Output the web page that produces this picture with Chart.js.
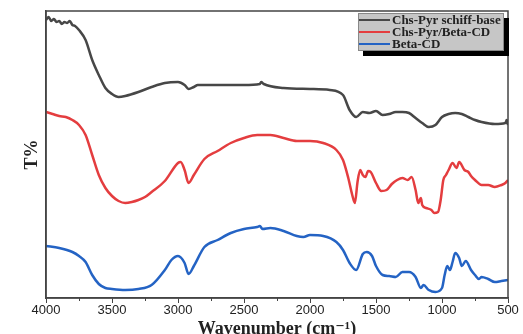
<!DOCTYPE html>
<html>
<head>
<meta charset="utf-8">
<script src="https://cdn.jsdelivr.net/npm/chart.js@4.4.1/dist/chart.umd.min.js"></script>
<style>
  html, body { margin: 0; padding: 0; background: #fff; }
  #wrap { width: 523px; height: 334px; }
</style>
</head>
<body>
<div id="wrap"><canvas id="ftir"></canvas></div>
<script>
// Wavenumbers (cm-1) and transmittance (arbitrary units, offset stacked) per spectrum
const schiffWn = [4000, 3980, 3960, 3940, 3920, 3900, 3880, 3860, 3840, 3820, 3800, 3780, 3750, 3700, 3650, 3600, 3550, 3500, 3450, 3400, 3300, 3200, 3100, 3000, 2950, 2920, 2880, 2850, 2700, 2500, 2380, 2370, 2350, 2200, 2000, 1850, 1750, 1700, 1650, 1600, 1550, 1500, 1450, 1400, 1350, 1300, 1250, 1200, 1150, 1100, 1050, 1000, 950, 900, 850, 800, 750, 700, 600, 520, 510, 500];
const schiffT = [278, 281, 277, 279, 276, 277, 274, 276, 275, 277, 273, 272, 268, 258, 238, 223, 210, 204, 201, 202, 206, 211, 215, 216, 213, 209, 211, 213, 213, 213, 214, 216, 214, 210, 209, 208, 203, 188, 181, 186, 185, 187, 183, 184, 186, 186, 185, 180, 175, 171, 173, 181, 184, 185, 184, 181, 178, 176, 174, 175, 178, 173];

const complexWn = [4000, 3950, 3900, 3850, 3800, 3750, 3700, 3650, 3600, 3550, 3500, 3450, 3400, 3350, 3300, 3250, 3200, 3100, 3000, 2980, 2950, 2920, 2880, 2800, 2700, 2600, 2500, 2400, 2300, 2200, 2100, 2000, 1900, 1800, 1750, 1710, 1680, 1660, 1640, 1620, 1600, 1580, 1560, 1540, 1500, 1460, 1420, 1380, 1340, 1300, 1260, 1230, 1200, 1180, 1160, 1150, 1120, 1080, 1060, 1030, 1010, 990, 970, 950, 920, 890, 870, 830, 800, 780, 750, 700, 650, 600, 550, 520, 500];
const complexT = [186, 184, 182, 181, 178, 173, 163, 143, 123, 110, 102, 97, 95, 96, 98, 101, 106, 117, 135, 136, 128, 115, 123, 139, 147, 155, 160, 163, 163, 160, 157, 157, 155, 148, 138, 120, 103, 95, 116, 128, 123, 121, 127, 126, 115, 107, 108, 114, 118, 120, 118, 121, 108, 95, 100, 93, 90, 88, 85, 86, 98, 118, 123, 128, 135, 130, 136, 128, 126, 122, 118, 113, 113, 111, 113, 115, 118];

const betaWn = [4000, 3900, 3800, 3750, 3700, 3650, 3600, 3550, 3500, 3400, 3300, 3200, 3100, 3050, 3000, 2950, 2920, 2880, 2800, 2700, 2600, 2500, 2400, 2380, 2360, 2300, 2200, 2100, 2050, 2000, 1900, 1800, 1750, 1700, 1650, 1600, 1570, 1530, 1500, 1450, 1400, 1350, 1300, 1250, 1200, 1160, 1140, 1100, 1050, 1000, 980, 960, 940, 920, 900, 870, 850, 820, 780, 750, 720, 700, 650, 600, 550, 500];
const betaT = [52, 50, 46, 42, 36, 23, 14, 10, 9, 8, 9, 13, 28, 38, 42, 35, 24, 32, 51, 58, 65, 69, 71, 72, 69, 70, 67, 62, 61, 63, 62, 56, 48, 35, 28, 44, 46, 42, 32, 23, 22, 21, 26, 26, 21, 10, 13, 8, 6, 10, 23, 32, 28, 36, 45, 40, 32, 37, 28, 23, 19, 21, 19, 16, 17, 18];

const seriesLabels = ['Chs-Pyr schiff-base', 'Chs-Pyr/Beta-CD', 'Beta-CD'];
const xTicks = [4000, 3500, 3000, 2500, 2000, 1500, 1000, 500];
const xMinorTicks = [3750, 3250, 2750, 2250, 1750, 1250, 750];

function toPoints(wn, t) {
  return wn.map((w, i) => ({ x: w, y: t[i] }));
}

// Cadre autour de la zone du graphique, petites graduations et légende grise avec ombre
const framePlugin = {
  id: 'frameAndLegend',
  afterDraw(chart) {
    const ctx = chart.ctx;
    const a = chart.chartArea;
    const xs = chart.scales.x;
    ctx.save();
    ctx.strokeStyle = '#444';
    ctx.lineWidth = 1.5;
    ctx.strokeRect(a.left, a.top, a.right - a.left, a.bottom - a.top);

    // graduations secondaires
    ctx.lineWidth = 1;
    xMinorTicks.forEach((v) => {
      const px = Math.round(xs.getPixelForValue(v)) + 0.5;
      ctx.beginPath();
      ctx.moveTo(px, a.bottom);
      ctx.lineTo(px, a.bottom + 3);
      ctx.stroke();
    });

    // légende
    const bx = 358, by = 13, bw = 146, bh = 38;
    ctx.fillStyle = '#000';
    ctx.fillRect(bx + 5, by + 5, bw, bh);
    ctx.fillStyle = '#c6c6c6';
    ctx.fillRect(bx, by, bw, bh);
    ctx.strokeStyle = '#888';
    ctx.lineWidth = 1;
    ctx.strokeRect(bx + 0.5, by + 0.5, bw - 1, bh - 1);

    ctx.font = 'bold 13px "Liberation Serif", "DejaVu Serif", serif';
    ctx.textBaseline = 'middle';
    chart.data.datasets.forEach((ds, i) => {
      const y = by + 7 + i * 12;
      ctx.strokeStyle = ds.borderColor;
      ctx.lineWidth = 2;
      ctx.beginPath();
      ctx.moveTo(bx + 1, y);
      ctx.lineTo(bx + 32, y);
      ctx.stroke();
      ctx.fillStyle = '#222';
      ctx.fillText(ds.label, bx + 34, y + 0.5);
    });
    ctx.restore();
  }
};

const ctx = document.getElementById('ftir').getContext('2d');
const chart = new Chart(ctx, {
  type: 'line',
  data: {
    datasets: [
      { label: seriesLabels[0], data: toPoints(schiffWn, schiffT), borderColor: '#474747' },
      { label: seriesLabels[1], data: toPoints(complexWn, complexT), borderColor: '#e43d3f' },
      { label: seriesLabels[2], data: toPoints(betaWn, betaT), borderColor: '#2463c4' }
    ]
  },
  options: {
    responsive: true,
    maintainAspectRatio: false,
    animation: false,
    layout: { padding: { top: 11, right: 15, left: 0, bottom: 0 } },
    elements: {
      point: { radius: 0 },
      line: { borderWidth: 2.5, cubicInterpolationMode: 'monotone' }
    },
    plugins: {
      legend: { display: false },
      tooltip: { enabled: false }
    },
    scales: {
      x: {
        type: 'linear',
        reverse: true,
        min: 500,
        max: 4000,
        afterFit(scale) { scale.height = 36; },
        afterBuildTicks(scale) {
          scale.ticks = xTicks.map((v) => ({ value: v }));
        },
        ticks: {
          color: '#222',
          font: { family: '"Liberation Sans", Arial, sans-serif', size: 13 },
          padding: 0,
          maxRotation: 0,
          autoSkip: false,
          callback: (v) => String(v)
        },
        grid: { drawOnChartArea: false, tickLength: 5, color: '#444', tickColor: '#444' },
        border: { color: '#444', width: 1.5 },
        title: {
          display: true,
          text: 'Wavenumber (cm\u207B\u00B9)',
          color: '#222',
          font: { family: '"Liberation Serif", "DejaVu Serif", serif', size: 18, weight: 'bold', lineHeight: 1 },
          padding: { top: 0, bottom: -4 }
        }
      },
      y: {
        min: 0,
        max: 287,
        afterFit(scale) { scale.width = 46; },
        ticks: { display: false },
        grid: { display: false },
        border: { color: '#444', width: 1.5 },
        title: {
          display: true,
          text: 'T%',
          color: '#222',
          font: { family: '"Liberation Serif", "DejaVu Serif", serif', size: 18, weight: 'bold', lineHeight: 1 },
          padding: { top: 23, bottom: 0 }
        }
      }
    }
  },
  plugins: [framePlugin]
});
</script>
</body>
</html>
